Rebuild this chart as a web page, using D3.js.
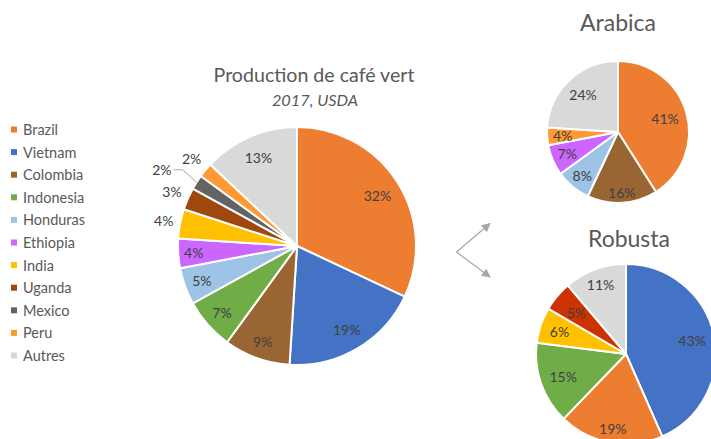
<!DOCTYPE html>
<html>
<head>
<meta charset="utf-8">
<script src="https://cdn.jsdelivr.net/npm/d3@7"></script>
<style>
  html, body { margin: 0; padding: 0; background: #fff; overflow: hidden; }
  svg { display: block; font-family: Lato, "Open Sans", sans-serif; }
</style>
</head>
<body>
<svg id="chart" width="711" height="439"></svg>
<script>
// ---- Data ----
const mainCategories = ["Brazil", "Vietnam", "Colombia", "Indonesia", "Honduras", "Ethiopia", "India", "Uganda", "Mexico", "Peru", "Autres"];
const mainValues     = [32, 19, 9, 7, 5, 4, 4, 3, 2, 2, 13];

const arabicaCategories = ["Brazil", "Colombia", "Honduras", "Ethiopia", "Peru", "Autres"];
const arabicaValues     = [41, 16, 8, 7, 4, 24];

const robustaCategories = ["Vietnam", "Brazil", "Indonesia", "India", "Uganda", "Autres"];
const robustaValues     = [43.4, 18.8, 14.8, 6.4, 5.4, 11.2];

const titleText = "Production de café vert";
const subtitleText = "2017, USDA";

// ---- Styles ----
const colors = {
  Brazil: "#ED7D31", Vietnam: "#4472C4", Colombia: "#996633", Indonesia: "#70AD47",
  Honduras: "#9DC3E6", Ethiopia: "#CC66FF", India: "#FFC000", Uganda: "#9E480E",
  Mexico: "#636363", Peru: "#FF9933", Autres: "#D9D9D9"
};
const robustaColors = Object.assign({}, colors, { Uganda: "#CC3300" });

const svg = d3.select("#chart");
const labelColor = "#404040";
const titleColor = "#595959";

function drawPie(opts) {
  const { cats, vals, cx, cy, r, colorMap, labelR, fontSize } = opts;
  const data = cats.map((c, i) => ({ cat: c, value: vals[i] }));
  const total = d3.sum(vals);
  const pie = d3.pie().value(d => d.value).sort(null);
  const arc = d3.arc().innerRadius(0).outerRadius(r);
  const g = svg.append("g").attr("transform", `translate(${cx},${cy})`);
  const arcs = pie(data);
  g.selectAll("path").data(arcs).join("path")
    .attr("d", arc)
    .attr("fill", d => colorMap[d.data.cat])
    .attr("stroke", "#fff")
    .attr("stroke-width", 2)
    .attr("stroke-linejoin", "round");
  arcs.forEach((d, i) => {
    const mid = (d.startAngle + d.endAngle) / 2;
    const lr = r * (labelR[i] ?? 0.8);
    const pct = Math.round(d.data.value / total * 100) + "%";
    if (opts.leader && opts.leader[i]) {
      const p0 = [Math.sin(mid) * r * 1.0, -Math.cos(mid) * r * 1.0];
      const p1 = [p0[0] - 14, p0[1] - 12.5];
      const p2 = [p1[0] - 9, p1[1]];
      g.append("polyline")
        .attr("points", [p0, p1, p2].map(p => p.join(",")).join(" "))
        .attr("fill", "none").attr("stroke", "#A6A6A6").attr("stroke-width", 1);
      g.append("text")
        .attr("x", p2[0] - 2).attr("y", p2[1])
        .attr("text-anchor", "end").attr("dominant-baseline", "central")
        .attr("font-size", fontSize).attr("fill", labelColor)
        .text(pct);
      return;
    }
    g.append("text")
      .attr("x", Math.sin(mid) * lr)
      .attr("y", -Math.cos(mid) * lr)
      .attr("text-anchor", "middle")
      .attr("dominant-baseline", "central")
      .attr("font-size", fontSize)
      .attr("fill", labelColor)
      .text(pct);
  });
}

// ---- Main pie ----
drawPie({
  cats: mainCategories, vals: mainValues, cx: 297, cy: 246, r: 119,
  colorMap: colors, fontSize: 14,
  labelR: [0.80, 0.82, 0.85, 0.84, 0.85, 0.87, 1.14, 1.145, 1.15, 1.15, 0.815],
  leader: { 8: true }
});

// Titles
svg.append("text").attr("x", 314).attr("y", 82)
  .attr("text-anchor", "middle").attr("font-size", 19.6).attr("fill", titleColor)
  .text(titleText);
svg.append("text").attr("x", 315).attr("y", 106)
  .attr("text-anchor", "middle").attr("font-size", 16.3).attr("font-style", "italic")
  .attr("fill", titleColor).text(subtitleText);

// ---- Legend ----
const legend = svg.append("g");
mainCategories.forEach((c, i) => {
  const y = 129.5 + i * 22.6;
  legend.append("rect").attr("x", 11).attr("y", y - 3).attr("width", 6).attr("height", 6)
    .attr("fill", colors[c]);
  legend.append("text").attr("x", 23).attr("y", y)
    .attr("dominant-baseline", "central").attr("font-size", 14.5).attr("fill", titleColor)
    .text(c);
});

// ---- Arabica ----
svg.append("text").attr("x", 618).attr("y", 31)
  .attr("text-anchor", "middle").attr("font-size", 23).attr("fill", titleColor).text("Arabica");
drawPie({
  cats: arabicaCategories, vals: arabicaValues, cx: 618, cy: 132, r: 71,
  colorMap: colors, fontSize: 14,
  labelR: [0.69, 0.85, 0.79, 0.78, 0.78, 0.72]
});

// ---- Robusta ----
svg.append("text").attr("x", 629).attr("y", 247)
  .attr("text-anchor", "middle").attr("font-size", 23).attr("fill", titleColor).text("Robusta");
drawPie({
  cats: robustaCategories, vals: robustaValues, cx: 626, cy: 354, r: 90,
  colorMap: robustaColors, fontSize: 14,
  labelR: [0.75, 0.84, 0.74, 0.78, 0.72, 0.82]
});

// ---- Arrows ----
const defs = svg.append("defs");
defs.append("marker").attr("id", "arrow")
  .attr("viewBox", "0 0 10 10").attr("refX", 9).attr("refY", 5)
  .attr("markerWidth", 9).attr("markerHeight", 9).attr("markerUnits", "userSpaceOnUse")
  .attr("orient", "auto")
  .append("path").attr("d", "M0,0 L10,5 L0,10 Z").attr("fill", "#A6A6A6");
const vx = 456.5, vy = 252;
[[490, 223.5], [490, 277]].forEach(([x, y]) => {
  svg.append("line").attr("x1", vx).attr("y1", vy).attr("x2", x).attr("y2", y)
    .attr("stroke", "#A6A6A6").attr("stroke-width", 1.2)
    .attr("marker-end", "url(#arrow)");
});
</script>
</body>
</html>
